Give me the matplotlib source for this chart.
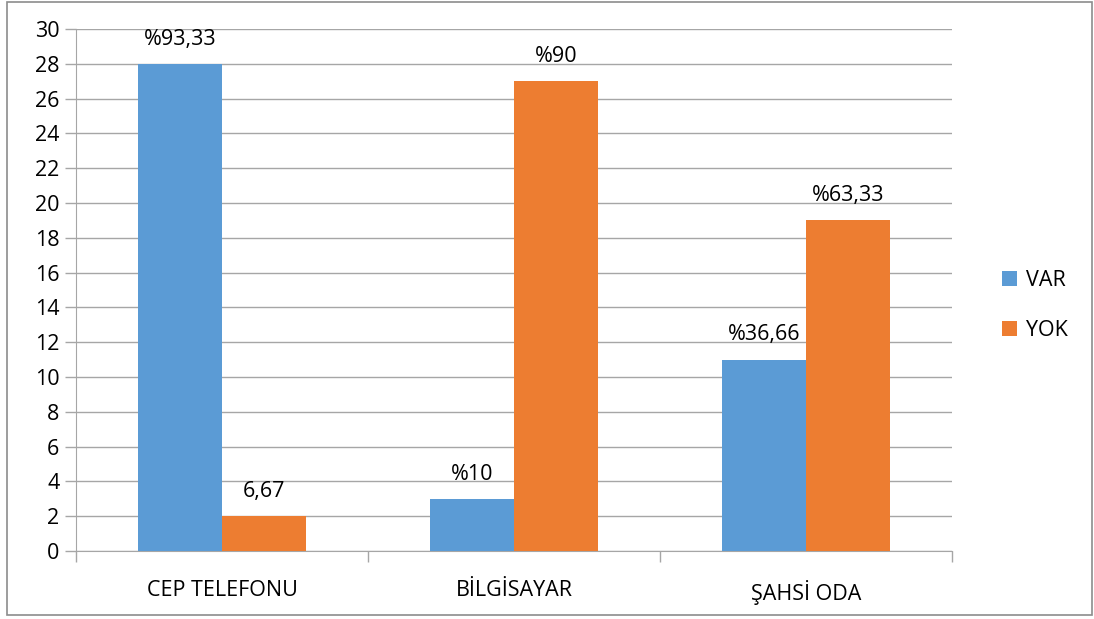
import numpy as np
import matplotlib
matplotlib.use('Agg')
import matplotlib.pyplot as plt
from matplotlib.patches import Rectangle

CATEGORIES = ['CEP TELEFONU', 'BİLGİSAYAR', 'ŞAHSİ ODA']
VAR = [28, 3, 11]
YOK = [2, 27, 19]
VAR_LABELS = ['%93,33', '%10', '%36,66']
YOK_LABELS = ['6,67', '%90', '%63,33']
Y_TICKS = list(range(0, 31, 2))

BLUE = '#5B9BD5'
ORANGE = '#ED7D31'
GRID = '#A6A6A6'
FS = 15.5

plt.rcParams['font.family'] = ['Open Sans', 'DejaVu Sans']

fig = plt.figure(figsize=(10.94, 6.19), dpi=100)
fig.patches.append(Rectangle((0.006, 0.006), 0.992, 0.99, transform=fig.transFigure,
                             fill=False, edgecolor='#8C8C8C', linewidth=1.2))

ax = fig.add_axes([76 / 1094, 1 - 551 / 619, 876 / 1094, 522 / 619])

x = np.arange(len(CATEGORIES))
w = 0.286
b1 = ax.bar(x - w / 2, VAR, width=w, color=BLUE, label='VAR', zorder=3)
b2 = ax.bar(x + w / 2, YOK, width=w, color=ORANGE, label='YOK', zorder=3)

for bars, labels in ((b1, VAR_LABELS), (b2, YOK_LABELS)):
    for rect, lab in zip(bars, labels):
        ax.text(rect.get_x() + rect.get_width() / 2, rect.get_height() + 1.1, lab,
                ha='center', va='baseline', fontsize=FS, color='#000000')

ax.set_xlim(-0.5, 2.5)
ax.set_ylim(0, 30)
ax.set_yticks(Y_TICKS)
ax.set_yticklabels([str(v) for v in Y_TICKS], fontsize=FS)
ax.yaxis.grid(True, color=GRID, linewidth=1.0, zorder=0)
ax.set_axisbelow(True)

ax.set_xticks(x)
ax.set_xticklabels(CATEGORIES, fontsize=FS)
ax.tick_params(axis='x', length=0, pad=21)
ax.set_xticks([-0.5, 0.5, 1.5, 2.5], minor=True)
ax.tick_params(axis='x', which='minor', length=8, color=GRID, width=1.0)
ax.tick_params(axis='y', length=8, color=GRID, width=1.0, pad=4)

for s in ('top', 'right'):
    ax.spines[s].set_visible(False)
ax.spines['left'].set_color(GRID)
ax.spines['bottom'].set_color(GRID)

ax.legend(loc='center left', bbox_to_anchor=(1.035, 0.47), frameon=False,
          fontsize=FS, handlelength=0.7, handleheight=0.7, labelspacing=1.35,
          handletextpad=0.4)

fig.savefig('out.png', dpi=100)
